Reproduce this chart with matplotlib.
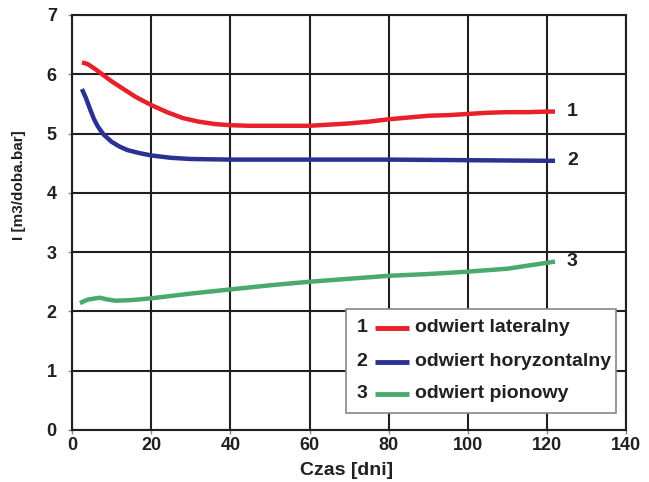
import matplotlib
matplotlib.use('Agg')
import matplotlib.pyplot as plt
from matplotlib.patches import Rectangle

plt.rcParams['font.family'] = ['Liberation Sans', 'DejaVu Sans']
plt.rcParams['font.weight'] = 'bold'

# values
days_1 = [2.5, 4, 6, 8, 10, 13, 16, 20, 24, 28, 32, 36, 40, 45, 50, 55, 60, 65, 70, 75, 80, 85, 90, 95, 100, 105, 110, 115, 120, 122]
lateral = [6.2, 6.17, 6.08, 5.98, 5.88, 5.75, 5.62, 5.48, 5.36, 5.26, 5.2, 5.16, 5.14, 5.13, 5.13, 5.13, 5.13, 5.15, 5.17, 5.2, 5.24, 5.27, 5.3, 5.31, 5.33, 5.35, 5.36, 5.36, 5.37, 5.37]

days_2 = [2.5, 3.5, 4.5, 5.5, 6.5, 8, 10, 12, 14, 17, 20, 25, 30, 40, 60, 80, 100, 120, 122]
horizontal = [5.75, 5.6, 5.42, 5.25, 5.12, 4.98, 4.86, 4.78, 4.72, 4.67, 4.63, 4.59, 4.57, 4.56, 4.56, 4.56, 4.55, 4.54, 4.54]

days_3 = [2, 4, 7, 9, 11, 15, 20, 25, 30, 40, 50, 60, 70, 80, 90, 100, 110, 115, 120, 122]
vertical = [2.14, 2.2, 2.23, 2.2, 2.18, 2.19, 2.22, 2.26, 2.3, 2.37, 2.44, 2.5, 2.55, 2.6, 2.63, 2.67, 2.72, 2.77, 2.82, 2.84]

series_names = ['odwiert lateralny', 'odwiert horyzontalny', 'odwiert pionowy']
series_nums = ['1', '2', '3']
colors = ['#e8202a', '#2b3192', '#4aa96c']
ink = '#231f20'

fig = plt.figure(figsize=(6.49, 4.82), dpi=100)
ax = fig.add_axes([0.111, 0.108, 0.854, 0.861])

xs = [days_1, days_2, days_3]
ys = [lateral, horizontal, vertical]
for x, y, c in zip(xs, ys, colors):
    ax.plot(x, y, color=c, lw=3.2, solid_capstyle='butt', zorder=3)

# number labels at the right ends
for x, y, n in zip(xs, ys, series_nums):
    ax.text(x[-1] + 3, y[-1], n, fontsize=14, fontweight='bold', va='center', ha='left', color=ink)

ax.set_xlim(0, 140)
ax.set_ylim(0, 7)
ax.set_xticks(range(0, 141, 20))
ax.set_yticks(range(0, 8))
ax.grid(True, color=ink, lw=1.5)
for s in ax.spines.values():
    s.set_color(ink)
    s.set_linewidth(1.5)
ax.tick_params(axis='both', labelsize=13, length=3, width=1, color='#888888', labelcolor=ink)
ax.tick_params(axis='y', pad=8)
ax.tick_params(axis='x', pad=2)
for lbl in ax.get_xticklabels() + ax.get_yticklabels():
    lbl.set_fontweight('bold')

ax.set_xlabel('Czas [dni]', fontsize=14, fontweight='bold', color=ink)
ax.set_ylabel('I [m3/doba.bar]', fontsize=11, fontweight='bold', color=ink)
ax.xaxis.set_label_coords(0.496, -0.078)
ax.yaxis.set_label_coords(-0.083, 0.59)

# legend box drawn by hand, numbers in front of the swatches
ax.add_patch(Rectangle((0.495, 0.041), 0.487, 0.251, transform=ax.transAxes,
                       facecolor='white', edgecolor='#888888', lw=1.2, zorder=5))
row_y = [0.246, 0.164, 0.087]
for ry, n, c, name in zip(row_y, series_nums, colors, series_names):
    ax.text(0.523, ry, n, transform=ax.transAxes, ha='center', va='center',
            fontsize=14, fontweight='bold', color=ink, zorder=6)
    ax.plot([0.547, 0.608], [ry, ry], transform=ax.transAxes, color=c, lw=3.5,
            solid_capstyle='butt', zorder=6)
    ax.text(0.618, ry, name, transform=ax.transAxes, ha='left', va='center',
            fontsize=14, fontweight='bold', color=ink, zorder=6)

fig.savefig('out.png', dpi=100)
